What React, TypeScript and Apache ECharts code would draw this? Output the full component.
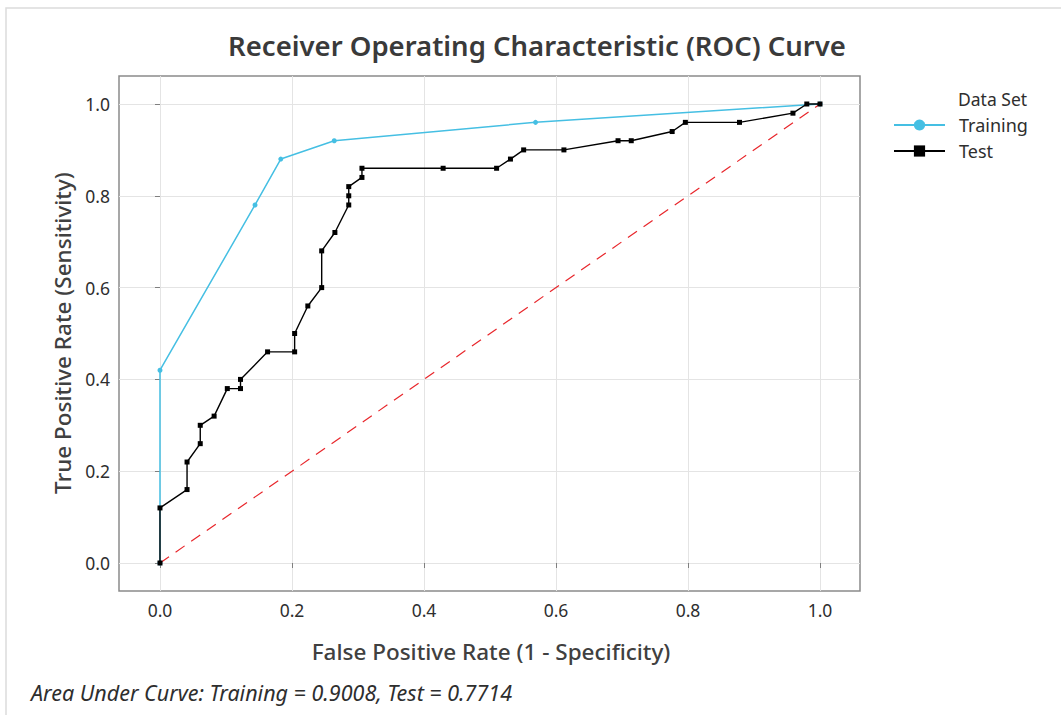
import React, { useEffect, useRef } from "react";
import * as echarts from "echarts";

const titleText = "Receiver Operating Characteristic (ROC) Curve";
const xAxisName = "False Positive Rate (1 - Specificity)";
const yAxisName = "True Positive Rate (Sensitivity)";
const footnote = "Area Under Curve: Training = 0.9008, Test = 0.7714";
const legendTitle = "Data Set";
const tickValues = [0, 0.2, 0.4, 0.6, 0.8, 1.0];

const trainingPoints: [number, number][] = [
  [0, 0], [0, 0.42], [0.144, 0.78], [0.183, 0.88], [0.264, 0.92], [0.569, 0.96], [1, 1],
];

const testPoints: [number, number][] = [
  [0, 0], [0, 0.12], [0.041, 0.16], [0.041, 0.22], [0.061, 0.26], [0.061, 0.30],
  [0.082, 0.32], [0.102, 0.38], [0.122, 0.38], [0.122, 0.40], [0.163, 0.46],
  [0.204, 0.46], [0.204, 0.50], [0.224, 0.56], [0.245, 0.60], [0.245, 0.68],
  [0.265, 0.72], [0.286, 0.78], [0.286, 0.80], [0.286, 0.82], [0.306, 0.84],
  [0.306, 0.86], [0.429, 0.86], [0.510, 0.86], [0.531, 0.88], [0.551, 0.90],
  [0.612, 0.90], [0.694, 0.92], [0.714, 0.92], [0.776, 0.94], [0.796, 0.96],
  [0.878, 0.96], [0.959, 0.98], [0.980, 1.0], [1.0, 1.0],
];

const diagonal: [number, number][] = [[0, 0], [1, 1]];

const FONT = "'Noto Sans', 'Open Sans', sans-serif";

export default function App() {
  const ref = useRef<HTMLDivElement>(null);
  useEffect(() => {
    document.body.style.margin = "0";
    const chart = echarts.init(ref.current!, null, { renderer: "svg" });
    const axisCommon = {
      type: "value" as const,
      axisLine: { show: false },
      axisTick: {
        show: true,
        length: 5,
        lineStyle: { color: "#7f7f7f", width: 1 },
        customValues: tickValues,
      },
      axisLabel: {
        customValues: tickValues,
        formatter: (v: number) => v.toFixed(1),
        color: "#2e2e2e",
        fontSize: 17.5,
        fontFamily: FONT,
      },
      splitLine: { show: true, lineStyle: { color: "#e4e4e4", width: 1 } },
    };
    chart.setOption({
      animation: false,
      backgroundColor: "#fff",
      grid: {
        left: 119,
        top: 76,
        right: 201,
        bottom: 124,
        containLabel: false,
        show: true,
        borderColor: "#8a8a8a",
        borderWidth: 1.5,
        backgroundColor: "transparent",
      },
      xAxis: {
        ...axisCommon,
        min: -0.0621,
        max: 1.0606,
        axisLabel: { ...axisCommon.axisLabel, margin: 10 },
      },
      yAxis: {
        ...axisCommon,
        min: -0.061,
        max: 1.061,
        axisLabel: { ...axisCommon.axisLabel, margin: 9 },
      },
      legend: {
        data: ["Training", "Test"],
        orient: "vertical",
        left: 888,
        top: 111,
        itemWidth: 51,
        itemHeight: 14,
        itemGap: 8,
        textStyle: { color: "#2e2e2e", fontSize: 18, fontFamily: FONT, padding: [0, 0, 0, 9] },
        selectedMode: false,
      },
      series: [
        {
          name: "Diagonal",
          type: "line",
          data: diagonal,
          symbol: "none",
          lineStyle: { color: "#e8262b", width: 1.2, type: [11, 8] },
          silent: true,
          z: 1,
        },
        {
          name: "Training",
          type: "line",
          data: trainingPoints,
          symbol: "circle",
          symbolSize: 5,
          itemStyle: { color: "#45bfe3" },
          lineStyle: { color: "#45bfe3", width: 1.5 },
          z: 2,
        },
        {
          name: "Test",
          type: "line",
          data: testPoints,
          symbol: "rect",
          symbolSize: 5,
          itemStyle: { color: "#000" },
          lineStyle: { color: "#000", width: 1.4 },
          z: 3,
        },
      ],
      graphic: [
        {
          type: "rect",
          shape: { x: 6, y: 8, width: 1070, height: 720 },
          style: { fill: "none", stroke: "#dcdcdc", lineWidth: 1.5 },
          silent: true,
        },
        {
          type: "text",
          x: 537,
          y: 45,
          style: {
            text: titleText,
            fill: "#3a3a3a",
            font: `600 27.5px ${FONT}`,
            textAlign: "center",
            textVerticalAlign: "middle",
          },
        },
        {
          type: "text",
          x: 491,
          y: 651,
          style: {
            text: xAxisName,
            fill: "#404040",
            font: `500 22.5px ${FONT}`,
            textAlign: "center",
            textVerticalAlign: "middle",
          },
        },
        {
          type: "text",
          x: 62,
          y: 333,
          rotation: Math.PI / 2,
          style: {
            text: yAxisName,
            fill: "#404040",
            font: `500 22.5px ${FONT}`,
            textAlign: "center",
            textVerticalAlign: "middle",
          },
        },
        {
          type: "text",
          x: 958,
          y: 99,
          style: {
            text: legendTitle,
            fill: "#2e2e2e",
            font: `17.5px ${FONT}`,
            textAlign: "left",
            textVerticalAlign: "middle",
          },
        },
        {
          type: "text",
          x: 31,
          y: 692,
          style: {
            text: footnote,
            fill: "#2e2e2e",
            font: `italic 21.5px ${FONT}`,
            textAlign: "left",
            textVerticalAlign: "middle",
          },
        },
      ],
    });
    return () => chart.dispose();
  }, []);
  return (
    <div
      ref={ref}
      style={{ position: "absolute", left: 0, top: 0, width: 1061, height: 715 }}
    />
  );
}
